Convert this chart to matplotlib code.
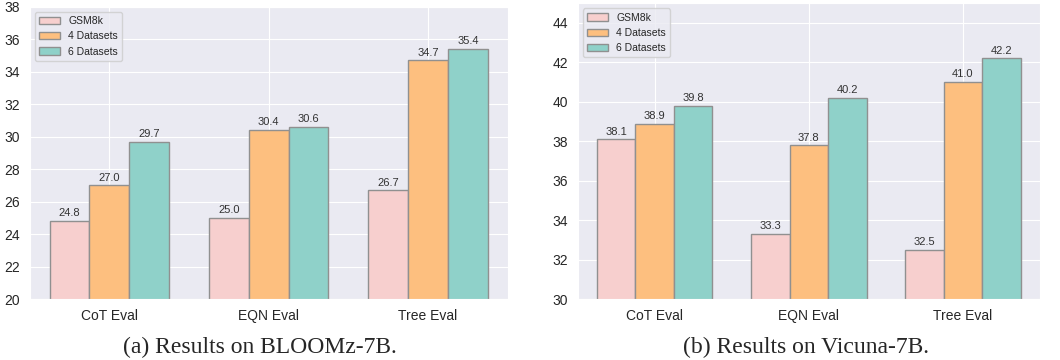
import numpy as np
import matplotlib.pyplot as plt
import seaborn as sns

sns.set_style("darkgrid")
plt.rcParams['font.family'] = ['Liberation Sans', 'DejaVu Sans']

categories = ["CoT Eval", "EQN Eval", "Tree Eval"]
series = ["GSM8k", "4 Datasets", "6 Datasets"]
bloomz = [[24.8, 25.0, 26.7], [27.0, 30.4, 34.7], [29.7, 30.6, 35.4]]
vicuna = [[38.1, 33.3, 32.5], [38.9, 37.8, 41.0], [39.8, 40.2, 42.2]]
colors = ["#f7cfce", "#fdbf7f", "#8fd1c9"]


def draw(ax, data, ylim, yticks):
    x = np.arange(len(categories))
    w = 0.25
    for i, vals in enumerate(data):
        bars = ax.bar(x + (i - 1) * w, vals, w, color=colors[i], edgecolor="#909090",
                      linewidth=1, label=series[i], zorder=2)
        ax.bar_label(bars, labels=[f"{v:.1f}" for v in vals], padding=2,
                     fontsize=8, color="#333333")
    ax.set_xticks(x)
    ax.set_xticklabels(categories, fontsize=10)
    ax.set_xlim(-0.5, 2.5)
    ax.set_ylim(*ylim)
    ax.set_yticks(yticks)
    ax.tick_params(axis="y", labelsize=10)
    ax.legend(loc="upper left", fontsize=7.5, frameon=True)


fig = plt.figure(figsize=(10.6, 3.6), dpi=100)
ax1 = fig.add_axes([0.028, 0.169, 0.451, 0.812])
ax2 = fig.add_axes([0.545, 0.169, 0.436, 0.822])

draw(ax1, bloomz, (20, 38), np.arange(20, 39, 2))
draw(ax2, vicuna, (30, 45), np.arange(30, 45, 2))

fig.text(0.245, 0.018, "(a) Results on BLOOMz-7B.", ha="center",
         family="Liberation Serif", fontsize=17)
fig.text(0.760, 0.018, "(b) Results on Vicuna-7B.", ha="center",
         family="Liberation Serif", fontsize=17)

fig.savefig("out.png", dpi=100)
